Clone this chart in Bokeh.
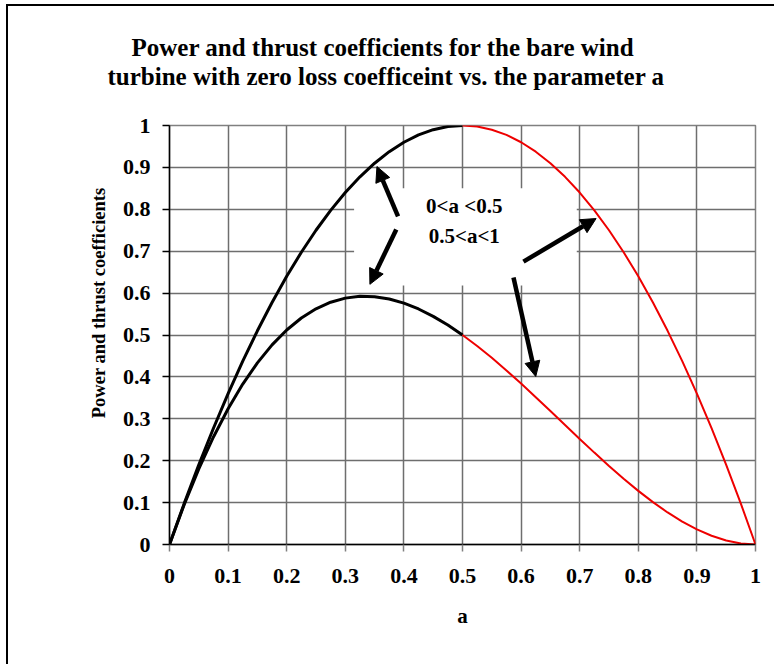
from bokeh.plotting import figure
from bokeh.models import Label, Arrow, NormalHead, Range1d, FixedTicker, Title
from bokeh.embed import file_html
from bokeh.resources import INLINE

# ---- data ----
a_low = [0, 0.025, 0.05, 0.075, 0.1, 0.125, 0.15, 0.175, 0.2, 0.225, 0.25,
         0.275, 0.3, 0.325, 0.35, 0.375, 0.4, 0.425, 0.45, 0.475, 0.5]
thrust_low = [0, 0.0975, 0.19, 0.2775, 0.36, 0.4375, 0.51, 0.5775, 0.64, 0.6975, 0.75,
              0.7975, 0.84, 0.8775, 0.91, 0.9375, 0.96, 0.9775, 0.99, 0.9975, 1.0]
power_low = [0, 0.0951, 0.1805, 0.2567, 0.324, 0.3828, 0.4335, 0.4764, 0.512, 0.5406, 0.5625,
             0.5782, 0.588, 0.5923, 0.5915, 0.5859, 0.576, 0.5621, 0.5445, 0.5237, 0.5]

a_high = [0.5, 0.525, 0.55, 0.575, 0.6, 0.625, 0.65, 0.675, 0.7, 0.725, 0.75,
          0.775, 0.8, 0.825, 0.85, 0.875, 0.9, 0.925, 0.95, 0.975, 1.0]
thrust_high = [1.0, 0.9975, 0.99, 0.9775, 0.96, 0.9375, 0.91, 0.8775, 0.84, 0.7975, 0.75,
               0.6975, 0.64, 0.5775, 0.51, 0.4375, 0.36, 0.2775, 0.19, 0.0975, 0]
power_high = [0.5, 0.4738, 0.4455, 0.4154, 0.384, 0.3516, 0.3185, 0.2852, 0.252, 0.2193, 0.1875,
              0.1569, 0.128, 0.1011, 0.0765, 0.0547, 0.036, 0.0208, 0.0095, 0.0024, 0]

x_ticks = [0, 0.1, 0.2, 0.3, 0.4, 0.5, 0.6, 0.7, 0.8, 0.9, 1.0]
y_ticks = [0, 0.1, 0.2, 0.3, 0.4, 0.5, 0.6, 0.7, 0.8, 0.9, 1.0]

title_lines = ["Power and thrust coefficients for the bare wind",
               "turbine with zero loss coefficeint vs. the parameter a"]
x_label = "a"
y_label = "Power and thrust coefficients"
note_lines = ["0<a <0.5", "0.5<a<1"]

# annotation arrows: (x_start, y_start, x_end, y_end) in data units
arrows = [(0.390, 0.783, 0.354, 0.902),
          (0.387, 0.752, 0.342, 0.621),
          (0.604, 0.675, 0.728, 0.778),
          (0.587, 0.637, 0.625, 0.401)]

FONT = "Liberation Serif"

p = figure(width=768, height=660, output_backend="svg", toolbar_location=None,
           x_range=Range1d(0, 1), y_range=Range1d(0, 1),
           min_border_left=161, min_border_right=21,
           min_border_top=119, min_border_bottom=122)
p.margin = (4, 0, 0, 6)
p.styles = {"border-left": "2px solid black", "border-top": "2px solid black",
            "box-sizing": "border-box"}
p.background_fill_color = "white"
p.border_fill_color = "white"
p.outline_line_color = "#808080"
p.outline_line_width = 1.5

for ax, ticks in ((p.xaxis, x_ticks), (p.yaxis, y_ticks)):
    ax.ticker = FixedTicker(ticks=ticks)
    ax.minor_tick_line_color = None
    ax.axis_line_color = "black"
    ax.axis_line_width = 1.5
    ax.major_label_text_font = FONT
    ax.major_label_text_font_style = "bold"
    ax.major_label_text_font_size = "22px"
    ax.major_label_text_color = "black"
    ax.major_tick_in = 0
    ax.major_tick_out = 7
    ax.major_tick_line_width = 1.5

p.xaxis.major_tick_line_color = "#808080"
p.yaxis.major_tick_line_color = "black"
p.xaxis.major_label_standoff = 17
p.yaxis.major_label_standoff = 12
p.xaxis.major_label_overrides = {0: "0", 1: "1"}
p.yaxis.major_label_overrides = {0: "0", 1: "1"}

p.xaxis.axis_label = x_label
p.xaxis.axis_label_text_font = FONT
p.xaxis.axis_label_text_font_style = "bold"
p.xaxis.axis_label_text_font_size = "21px"
p.xaxis.axis_label_text_color = "black"
p.xaxis.axis_label_standoff = 18

p.xgrid.ticker = FixedTicker(ticks=x_ticks[1:])
p.ygrid.ticker = FixedTicker(ticks=y_ticks[1:])
for g in (p.xgrid, p.ygrid):
    g.grid_line_color = "#6e6e6e"
    g.grid_line_width = 1.5

# white note box that hides the grid behind the annotation text
p.quad(left=[0.315], right=[0.695], bottom=[0.618], top=[0.85],
       fill_color="white", line_color=None)

p.line(a_low, thrust_low, line_color="black", line_width=3)
p.line(a_low, power_low, line_color="black", line_width=3)
p.line(a_high, thrust_high, line_color="#ee0000", line_width=2)
p.line(a_high, power_high, line_color="#ee0000", line_width=2)

for (xs, ys, xe, ye) in arrows:
    p.add_layout(Arrow(x_start=xs, y_start=ys, x_end=xe, y_end=ye,
                       line_color="black", line_width=4.5,
                       end=NormalHead(size=15, fill_color="black", line_color="black")))

for txt, yy in zip(note_lines, [0.807, 0.737]):
    p.add_layout(Label(x=0.503, y=yy, text=txt, text_align="center", text_baseline="middle",
                       text_color="black",
                       text_font=FONT, text_font_style="bold", text_font_size="21px"))

# spacer between the frame and the title block
p.add_layout(Title(text=" ", text_font_size="1px", standoff=33), "above")
# title lines (second line nearest the frame)
p.add_layout(Title(text=title_lines[1], align="left", offset=-62, standoff=0,
                   text_font=FONT, text_font_style="bold", text_font_size="25px",
                   text_color="black"), "above")
p.add_layout(Title(text=title_lines[0], align="left", offset=-38, standoff=0,
                   text_font=FONT, text_font_style="bold", text_font_size="25px",
                   text_color="black"), "above")

p.add_layout(Title(text=y_label, align="right", offset=62, standoff=22,
                   text_font=FONT, text_font_style="bold", text_font_size="18.5px",
                   text_color="black"), "left")

open("out.html", "w").write(file_html(p, INLINE))
